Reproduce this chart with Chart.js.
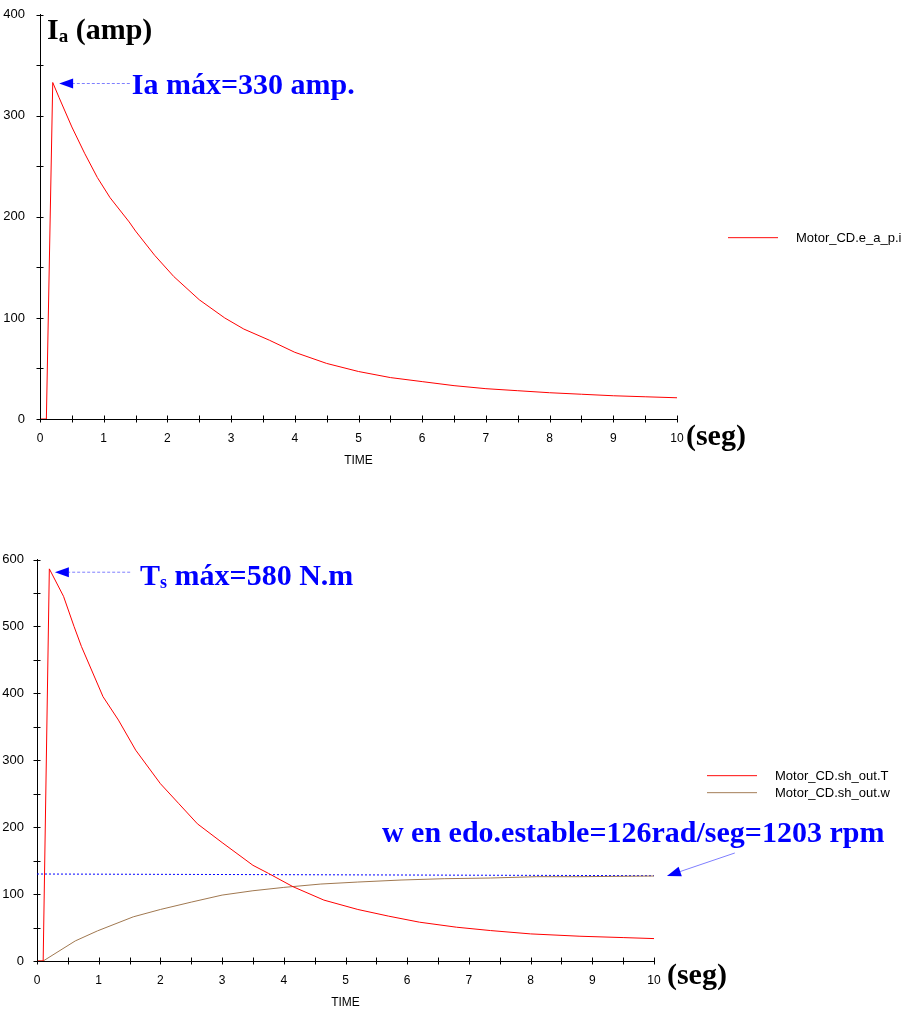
<!DOCTYPE html>
<html>
<head>
<meta charset="utf-8">
<script src="https://cdn.jsdelivr.net/npm/chart.js@4"></script>
<style>
  html, body { margin: 0; padding: 0; background: #fff; }
  #wrap { position: relative; width: 913px; height: 1011px; }
  canvas { position: absolute; left: 0; }
</style>
</head>
<body>
<div id="wrap">
  <canvas id="chart-ia" width="913" height="490" style="top:0"></canvas>
  <canvas id="chart-motor" width="913" height="521" style="top:490px"></canvas>
</div>
<script>
// armature current Motor_CD.e_a_p.i
const iaTime = [0, 0.1, 0.2, 0.3, 0.5, 0.7, 0.9, 1.1, 1.4, 1.5, 1.8, 2.1, 2.5, 2.9, 3.2, 3.6, 4, 4.5, 5, 5.5, 6, 6.5, 7, 7.5, 8, 8.5, 9, 9.5, 10];
const iaValues = [0, 0, 333, 318, 289, 263, 239, 219, 195, 186, 162, 141, 118, 100, 89, 78, 66, 55, 47, 41, 37, 33, 30, 28, 26, 24.5, 23, 22, 21];

// shaft torque Motor_CD.sh_out.T
const torqueTime = [0, 0.1, 0.2, 0.43, 0.6, 0.72, 1.07, 1.32, 1.6, 2, 2.3, 2.6, 3, 3.5, 3.75, 4.15, 4.65, 5.2, 5.7, 6.2, 6.8, 7.35, 8, 8.8, 9.5, 10];
const torqueValues = [0, 0, 586, 545, 500, 470, 395, 360, 315, 265, 235, 205, 177, 143, 131, 111, 91, 77, 67, 58, 50.5, 45.5, 40.5, 37, 35, 33.5];

// shaft speed Motor_CD.sh_out.w
const speedTime = [0, 0.1, 0.62, 0.98, 1.56, 2, 2.5, 3, 3.5, 4, 4.6, 5.2, 5.9, 6.6, 7.35, 8.1, 8.8, 10];
const speedValues = [0, 0, 30, 45, 66, 77, 88, 98.5, 105, 110, 115, 118, 121, 123, 124, 126, 126, 127];

// dotted steady state marker
const steadyTime = [0, 10];
const steadyValues = [130, 127.5];

const xTickLabels = [0, 1, 2, 3, 4, 5, 6, 7, 8, 9, 10];
const iaTickLabels = [0, 100, 200, 300, 400];
const motorTickLabels = [0, 100, 200, 300, 400, 500, 600];

const sans = '"Liberation Sans", Arial, Helvetica, sans-serif';
const serif = '"Liberation Serif", "Times New Roman", serif';
const BLUE = '#0000ff';
const RED = '#ff0000';
const BROWN = '#a07850';

function pts(xs, ys) {
  return xs.map((x, i) => ({ x: x, y: ys[i] }));
}

function richText(ctx, x, y, parts, color) {
  ctx.fillStyle = color;
  ctx.textAlign = 'left';
  ctx.textBaseline = 'alphabetic';
  parts.forEach(p => {
    ctx.font = 'bold ' + p[1] + 'px ' + serif;
    ctx.fillText(p[0], x, y + (p[2] || 0));
    x += ctx.measureText(p[0]).width;
  });
}

function arrow(ctx, x0, y0, x1, y1, dashed) {
  const ang = Math.atan2(y1 - y0, x1 - x0);
  const len = 14, half = 5;
  const bx = x1 - Math.cos(ang) * len, by = y1 - Math.sin(ang) * len;
  ctx.save();
  ctx.strokeStyle = '#7f7fff';
  ctx.lineWidth = 1;
  if (dashed) ctx.setLineDash([3, 2]);
  ctx.beginPath();
  ctx.moveTo(x0, y0);
  ctx.lineTo(bx, by);
  ctx.stroke();
  ctx.setLineDash([]);
  ctx.fillStyle = BLUE;
  ctx.beginPath();
  ctx.moveTo(x1, y1);
  ctx.lineTo(bx + Math.sin(ang) * half, by - Math.cos(ang) * half);
  ctx.lineTo(bx - Math.sin(ang) * half, by + Math.cos(ang) * half);
  ctx.closePath();
  ctx.fill();
  ctx.restore();
}

// ticks that cross the axis lines, legend and the blue notes
const decor = {
  id: 'decor',
  afterDraw(chart, args, opts) {
    const ctx = chart.ctx, xs = chart.scales.x, ys = chart.scales.y;
    ctx.save();
    ctx.strokeStyle = '#000';
    ctx.lineWidth = 1;
    ctx.beginPath();
    xs.ticks.forEach(t => {
      const px = Math.round(xs.getPixelForValue(t.value)) + 0.5;
      ctx.moveTo(px, ys.bottom - 3.5);
      ctx.lineTo(px, ys.bottom + 3.5);
    });
    ys.ticks.forEach(t => {
      const py = Math.round(ys.getPixelForValue(t.value)) + 0.5;
      ctx.moveTo(xs.left - 3.5, py);
      ctx.lineTo(xs.left + 3.5, py);
    });
    ctx.stroke();

    // legend
    ctx.font = '13px ' + sans;
    ctx.textBaseline = 'middle';
    ctx.textAlign = 'left';
    opts.legend.forEach((item, i) => {
      const y = opts.legendY + i * 17;
      ctx.fillStyle = item.color;
      ctx.globalAlpha = 0.8;
      ctx.fillRect(opts.legendX, y, 50, 1.2);
      ctx.globalAlpha = 1;
      ctx.fillStyle = '#000';
      ctx.fillText(item.label, opts.legendX + 68, y + 1);
    });

    opts.notes.forEach(n => {
      richText(ctx, xs.getPixelForValue(n.t), ys.getPixelForValue(n.v), n.parts, n.color);
    });
    opts.arrows.forEach(a => {
      arrow(ctx, xs.getPixelForValue(a.from[0]), ys.getPixelForValue(a.from[1]),
        xs.getPixelForValue(a.to[0]), ys.getPixelForValue(a.to[1]), a.dashed);
    });
    ctx.restore();
  }
};

function makeChart(id, datasets, yMax, yLabels, box, decorOpts) {
  decorOpts.legend = datasets.filter(d => d.label).map(d => ({ label: d.label, color: d.borderColor }));
  return new Chart(document.getElementById(id), {
    type: 'line',
    data: { datasets: datasets },
    options: {
      responsive: false,
      animation: false,
      parsing: false,
      layout: { padding: box.padding },
      elements: { point: { radius: 0 }, line: { borderWidth: 1, tension: 0 } },
      plugins: { legend: { display: false }, tooltip: { enabled: false }, decor: decorOpts },
      scales: {
        x: {
          type: 'linear', min: 0, max: 10,
          afterFit: s => { s.height = box.xh; },
          border: { color: '#000' },
          grid: { display: false },
          ticks: {
            stepSize: 0.5, autoSkip: false, maxRotation: 0, padding: 4, color: '#000',
            font: { family: sans, size: 12 },
            callback: v => xTickLabels.includes(v) ? String(v) : ''
          },
          title: { display: true, text: 'TIME', color: '#000', padding: 0, font: { family: sans, size: 12 } }
        },
        y: {
          type: 'linear', min: 0, max: yMax,
          afterFit: s => { s.width = box.yw; },
          border: { color: '#000' },
          grid: { display: false },
          ticks: {
            stepSize: 50, autoSkip: false, padding: box.yPad, color: '#000',
            font: { family: sans, size: 13 },
            callback: v => yLabels.includes(v) ? String(v) : ''
          }
        }
      }
    },
    plugins: [decor]
  });
}

makeChart('chart-ia', [
  { label: 'Motor_CD.e_a_p.i', data: pts(iaTime, iaValues), borderColor: RED }
], 400, iaTickLabels,
  { padding: { left: 0, top: 12, right: 236, bottom: 21.8 }, xh: 49.2, yw: 40, yPad: 7 },
  {
    legendX: 728, legendY: 237,
    notes: [
      { t: 0.11, v: 376, color: '#000', parts: [['I', 30], ['a', 19, 3], [' (amp)', 30]] },
      { t: 1.44, v: 322, color: BLUE, parts: [['Ia máx=330 amp.', 30]] },
      { t: 10.14, v: -25.5, color: '#000', parts: [['(seg)', 30]] }
    ],
    arrows: [{ from: [1.41, 332], to: [0.30, 332], dashed: true }]
  });

makeChart('chart-motor', [
  { label: 'Motor_CD.sh_out.T', data: pts(torqueTime, torqueValues), borderColor: RED },
  { label: 'Motor_CD.sh_out.w', data: pts(speedTime, speedValues), borderColor: BROWN },
  { data: pts(steadyTime, steadyValues), borderColor: BLUE, borderDash: [2, 2] }
], 600, motorTickLabels,
  { padding: { left: 0, top: 69.5, right: 259, bottom: 0.8 }, xh: 49.2, yw: 37, yPad: 5 },
  {
    legendX: 707, legendY: 285,
    notes: [
      { t: 1.67, v: 562, color: BLUE, parts: [['T', 30], ['s', 18, 3], [' máx=580 N.m', 30]] },
      { t: 5.59, v: 178, color: BLUE, parts: [['w en edo.estable=126rad/seg=1203 rpm', 30]] },
      { t: 10.21, v: -34.4, color: '#000', parts: [['(seg)', 30]] }
    ],
    arrows: [
      { from: [1.51, 581], to: [0.29, 581], dashed: true },
      { from: [11.31, 161.4], to: [10.21, 127], dashed: false }
    ]
  });
</script>
</body>
</html>
